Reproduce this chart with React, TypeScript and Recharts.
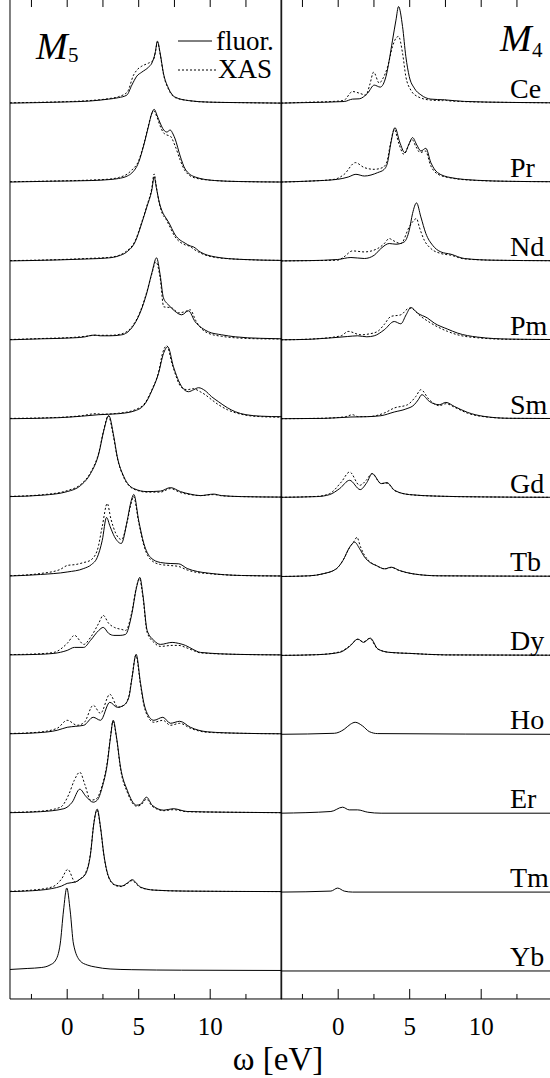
import { LineChart, Line, XAxis, YAxis, ReferenceLine } from 'recharts'

const elements = ['Ce', 'Pr', 'Nd', 'Pm', 'Sm', 'Gd', 'Tb', 'Dy', 'Ho', 'Er', 'Tm', 'Yb']

// [omega (eV), intensity above the element's baseline]
// M5 edge, fluorescence (solid) and XAS (dotted)
const ceM5Fluor = [[-4, 0], [-2, 0.5], [0, 1.2], [1.5, 2], [2.9, 4], [3.6, 5.5], [4.17, 8], [4.52, 18], [4.87, 27], [5.22, 31], [5.69, 36], [5.92, 40], [6.15, 50], [6.31, 62], [6.5, 50], [6.73, 30], [7.08, 15], [7.55, 6], [8.5, 2.5], [9.9, 1], [12, 0.5], [15, 0]]
const ceM5Xas = [[-4, 0.3], [-2, 0.8], [0, 1.5], [1.5, 2.5], [2.9, 4.5], [3.6, 6.5], [4.2, 11], [4.64, 28], [4.87, 33], [5.22, 37], [5.69, 40], [6.03, 43], [6.18, 52], [6.31, 61], [6.5, 49], [6.73, 29], [7.08, 14], [7.55, 5.5], [8.5, 2.5], [9.9, 1], [12, 0.5], [15, 0]]
const prM5Fluor = [[-4, 0], [-1, 0.8], [1.72, 1.5], [3, 2.5], [3.59, 3.5], [4.2, 6], [4.52, 9], [4.99, 19.5], [5.34, 36], [5.69, 56], [5.9, 68], [6.08, 72.7], [6.3, 66], [6.5, 59], [6.75, 52], [6.97, 50], [7.2, 52], [7.4, 48], [7.55, 43], [7.9, 26], [8.25, 13], [8.95, 5], [10.3, 1.5], [12, 0.5], [15, 0]]
const prM5Xas = [[-4, 0.3], [-1, 1], [1.72, 2], [3, 3], [3.59, 4.5], [4.2, 8], [4.52, 12], [4.99, 21], [5.34, 37], [5.69, 57], [5.9, 68], [6.06, 71], [6.3, 64], [6.5, 56], [6.75, 49], [6.97, 47], [7.2, 46], [7.55, 36], [7.9, 22], [8.25, 11], [8.95, 4], [10.3, 1.5], [12, 0.5], [15, 0]]
const ndM5Fluor = [[-4, 0], [-0.6, 1], [1.5, 2], [2.89, 3], [3.6, 5], [4.17, 9], [4.75, 19], [5.22, 38], [5.57, 54], [5.92, 71], [6.08, 84], [6.25, 72], [6.45, 58], [6.66, 49], [6.9, 43], [7.08, 39], [7.55, 26], [8.25, 17.7], [8.6, 15], [8.83, 14], [9.3, 9], [10.35, 4], [12.2, 1.5], [15, 0.5]]
const ndM5Xas = [[-4, 0.3], [-0.6, 1.3], [1.5, 2.5], [2.89, 3.5], [3.6, 5.5], [4.17, 10], [4.75, 20], [5.22, 39], [5.57, 55], [5.92, 73], [6.08, 87], [6.25, 73], [6.45, 57], [6.66, 47], [6.9, 42], [7.08, 37], [7.55, 24], [8.25, 16], [8.6, 14.5], [8.83, 12], [9.3, 8], [10.35, 3.5], [12.2, 1.5], [15, 0.5]]
const pmM5Fluor = [[-4, 0], [-1.78, 1], [0.5, 2], [1.26, 3], [1.7, 4.5], [1.96, 4.7], [2.3, 4], [3, 4], [3.82, 5], [4.52, 12], [5.1, 27], [5.57, 47], [5.92, 67], [6.25, 82], [6.5, 65], [6.73, 42], [7.08, 35], [7.5, 29], [8.01, 25], [8.48, 29], [8.95, 18], [9.4, 12], [9.88, 8], [10.8, 5], [11.75, 3], [13.5, 1.5], [15, 1]]
const pmM5Xas = [[-4, 0.3], [-1.78, 1.3], [0.5, 2.5], [1.26, 3.5], [1.96, 4.5], [3, 4.5], [3.82, 6], [4.52, 13], [5.1, 28], [5.57, 48], [5.92, 66], [6.2, 78], [6.5, 62], [6.75, 33], [7.3, 32], [7.8, 27], [8.2, 28], [8.6, 30], [9, 19], [9.4, 11], [9.88, 6.5], [10.8, 3.5], [11.75, 2], [13.5, 1], [15, 0.8]]
const smM5Fluor = [[-4, 0], [-0.6, 1], [1, 2.5], [2.19, 4], [3.59, 5], [4.75, 8], [5.45, 15], [5.92, 28], [6.38, 45], [6.73, 65], [7.03, 72], [7.43, 52], [8.01, 32], [8.48, 27], [8.85, 29], [9.18, 31], [9.65, 28], [10.1, 22], [10.58, 17], [11.2, 11], [11.75, 7], [12.5, 4], [13.6, 2.5], [15, 2]]
const smM5Xas = [[-4, 0.3], [-0.6, 1.3], [1, 3], [2, 5], [2.4, 4.5], [3.59, 5.5], [4.75, 9], [5.45, 16], [5.92, 29], [6.38, 46], [6.7, 67], [6.96, 73], [7.35, 54], [8.01, 31], [8.4, 29], [8.8, 30], [9.3, 27], [9.65, 24], [10.1, 19], [10.58, 14], [11.2, 9], [11.75, 6], [12.5, 3.5], [13.6, 2], [15, 1.5]]
const gdM5Fluor = [[-4, 1], [-1.64, 2.5], [0, 6], [0.93, 12], [1.63, 24], [2.21, 44], [2.56, 67], [2.91, 82], [3.26, 61], [3.5, 41], [3.96, 21], [4.66, 9], [5.59, 6], [6.52, 6.5], [7.22, 10], [7.92, 6], [8.6, 3.5], [9.32, 2], [10.25, 3.5], [10.8, 2], [12.2, 1], [15, 0.5]]
const gdM5Xas = [[-4, 1.2], [-1.64, 3], [0, 7], [0.93, 13], [1.63, 25], [2.21, 45], [2.56, 68], [2.87, 82], [3.22, 62], [3.5, 40], [3.96, 20], [4.66, 8.5], [5.59, 5.5], [6.52, 5.5], [7.22, 9], [7.92, 5], [8.6, 3], [9.32, 2], [10.25, 3], [10.8, 1.8], [12.2, 1], [15, 0.5]]
const tbM5Fluor = [[-4, 0.5], [-1.87, 2], [0, 4.5], [1.16, 8], [1.7, 12], [2.1, 19], [2.45, 36], [2.75, 59], [3, 50], [3.3, 40], [3.78, 33], [4.2, 56], [4.43, 73], [4.66, 82], [5, 56], [5.36, 33], [5.83, 19], [6.52, 14], [7.2, 13], [7.8, 12.7], [8.39, 8], [9.1, 5], [9.79, 3.5], [12.2, 1], [15, 0.5]]
const tbM5Xas = [[-4, 0.8], [-1.87, 3], [-0.5, 7], [0, 11], [0.6, 12], [1.16, 14], [1.6, 16], [2.1, 26], [2.45, 50], [2.8, 73], [3.05, 58], [3.4, 43], [3.8, 37], [4.2, 55], [4.45, 72], [4.64, 80], [5, 54], [5.36, 31], [5.83, 17], [6.52, 12], [7.2, 11], [7.8, 10], [8.39, 6.5], [9.1, 4], [9.79, 3], [12.2, 1], [15, 0.5]]
const dyM5Fluor = [[-4, 0.5], [-2.1, 1], [-0.93, 2], [0, 5], [0.51, 8], [1.16, 8], [1.63, 15], [2.21, 25], [2.52, 28], [2.9, 22], [3.26, 20], [3.7, 20], [4.08, 21], [4.5, 40], [4.85, 68], [5.08, 78], [5.3, 60], [5.59, 25], [6.06, 15], [6.52, 11], [7.34, 13], [7.8, 12], [8.27, 10], [8.8, 6], [9.32, 3], [12, 1], [15, 0.5]]
const dyM5Xas = [[-4, 0.8], [-2.1, 1.5], [-0.93, 3], [0, 12], [0.51, 20], [1.16, 11], [1.63, 18], [2.2, 32], [2.52, 40], [2.9, 32], [3.3, 28], [3.8, 26], [4.1, 25], [4.5, 42], [4.85, 69], [5.05, 77], [5.3, 58], [5.59, 23], [6.06, 13], [6.52, 9], [7.34, 10], [7.8, 10], [8.27, 8], [8.8, 5], [9.32, 2.5], [12, 1], [15, 0.5]]
const hoM5Fluor = [[-4, 0.5], [-2.1, 1.5], [-0.7, 4], [0, 7], [0.6, 8], [1.16, 9], [1.82, 17], [2.33, 14], [2.98, 32], [3.5, 27], [3.96, 29], [4.31, 37], [4.54, 57], [4.82, 80], [5.13, 51], [5.35, 32], [5.59, 21], [6.06, 14], [6.69, 17], [7.22, 11], [7.87, 13], [8.62, 7], [9.79, 2.5], [12.2, 1], [15, 0.5]]
const hoM5Xas = [[-4, 0.8], [-2.1, 2], [-0.7, 6], [0, 14], [0.7, 9], [1.2, 12], [1.82, 29], [2.33, 21], [2.98, 40], [3.55, 27], [3.96, 29], [4.31, 38], [4.54, 58], [4.8, 79], [5.13, 49], [5.35, 30], [5.59, 19], [6.06, 12], [6.69, 14], [7.22, 9], [7.87, 11], [8.62, 6], [9.79, 2], [12.2, 1], [15, 0.5]]
const erM5Fluor = [[-4, 0.5], [-1.87, 1.5], [-0.23, 4.5], [0.35, 11], [0.88, 24], [1.3, 17], [1.82, 11], [2.1, 13], [2.45, 26], [2.8, 49], [3.03, 76], [3.22, 93], [3.45, 76], [3.73, 46], [4.2, 23], [4.85, 8], [5.13, 9], [5.55, 16], [5.94, 8], [6.76, 3], [7.41, 4.5], [8.39, 1.7], [11, 1], [15, 0.5]]
const erM5Xas = [[-4, 0.8], [-1.87, 2], [-0.47, 6], [0.12, 19], [0.5, 33], [0.88, 41], [1.25, 28], [1.63, 13], [2, 14], [2.45, 28], [2.8, 51], [3.03, 77], [3.2, 92], [3.45, 75], [3.73, 44], [4.2, 21], [4.85, 7], [5.13, 8], [5.55, 14], [5.94, 7], [6.76, 2.5], [7.41, 3.5], [8.39, 1.5], [11, 1], [15, 0.5]]
const tmM5Fluor = [[-4, 0.5], [-2.9, 1], [-1.08, 3.5], [-0.4, 6], [0, 8.7], [0.56, 10], [0.9, 13], [1.28, 18], [1.63, 38], [1.86, 68], [2.1, 83], [2.33, 65], [2.56, 38], [2.91, 15], [3.38, 7], [3.8, 6], [4.2, 9], [4.55, 12.4], [4.9, 8], [5.13, 5], [6.06, 2], [8.2, 1], [15, 0.5]]
const tmM5Xas = [[-4, 0.8], [-2.9, 1.5], [-1.08, 5], [-0.4, 13], [0.04, 22.7], [0.56, 10], [0.9, 13], [1.28, 19], [1.63, 39], [1.86, 69], [2.08, 82], [2.33, 64], [2.56, 37], [2.91, 14], [3.38, 6.5], [3.8, 5.5], [4.2, 8.5], [4.55, 11.5], [4.9, 7], [5.13, 4.5], [6.06, 2], [8.2, 1], [15, 0.5]]
const ybM5Fluor = [[-4, 1.5], [-2.8, 2.5], [-1.78, 3.5], [-1.2, 6], [-0.84, 10], [-0.49, 27], [-0.26, 60], [-0.03, 83], [0.21, 60], [0.44, 27], [0.91, 10], [1.4, 6], [1.96, 4], [3, 2], [4.52, 1.3], [8, 0.8], [15, 0.5]]

// M4 edge
const ceM4Fluor = [[-4, 0], [-2.3, 0.5], [0.42, 1.6], [1, 4], [1.47, 4.3], [2.06, 10], [2.52, 18], [2.94, 16], [3.34, 26.6], [3.57, 43], [3.8, 63], [4.04, 83], [4.22, 96.6], [4.5, 76.6], [4.73, 46.6], [4.97, 26.6], [5.32, 15], [5.78, 8.3], [6.48, 4], [7.42, 3.3], [8.82, 1.7], [12, 0.7], [15, 0.3]]
const ceM4Xas = [[-4, 0], [-2.3, 0.8], [0, 2], [0.42, 3], [1, 11.6], [1.47, 10], [1.94, 8], [2.2, 18], [2.48, 31], [2.87, 20], [3.1, 24], [3.45, 36], [3.8, 56.6], [4.04, 65], [4.22, 66.7], [4.5, 50], [4.73, 26.6], [5.08, 13], [5.55, 6.6], [6.48, 3], [7.3, 2.5], [7.42, 3.5], [7.6, 2.5], [8.82, 1.5], [12, 0.7], [15, 0.3]]
const prM4Fluor = [[-4, 0], [-1.9, 1], [-0.04, 2.7], [0.7, 5], [1.24, 7.7], [1.83, 6], [2.76, 9.4], [3.22, 12.7], [3.45, 19.4], [3.69, 39.4], [3.97, 54.4], [4.3, 40], [4.66, 29.4], [4.95, 38], [5.2, 44.4], [5.5, 37], [5.78, 31], [6.13, 33.7], [6.48, 19.4], [6.95, 9.4], [7.88, 4.4], [9.75, 1.7], [12, 0.7], [15, 0.3]]
const prM4Xas = [[-4, 0], [-1.9, 1], [-0.27, 2.7], [0.42, 7.7], [1.2, 19.4], [1.83, 14.4], [2.52, 12.7], [3.1, 14.4], [3.4, 20], [3.65, 38], [3.92, 52.7], [4.25, 38], [4.6, 27.7], [4.9, 36], [5.15, 42.7], [5.45, 35], [5.73, 29.4], [6.1, 31], [6.48, 16], [6.95, 8], [7.88, 4], [9.75, 1.5], [12, 0.7], [15, 0.3]]
const ndM4Fluor = [[-4, 0], [-2, 0.3], [-0.04, 1.4], [0.89, 3.4], [1.83, 2.4], [2.52, 5.7], [2.99, 12.4], [3.57, 17.4], [4.04, 16.7], [4.62, 19], [4.97, 30.7], [5.2, 47.4], [5.48, 58], [5.78, 44], [6.13, 27.4], [6.6, 15.7], [7.18, 9], [7.88, 6.7], [8.82, 2.4], [10.9, 0.7], [15, 0.2]]
const ndM4Xas = [[-4, 0], [-2, 0.3], [-0.04, 0.7], [0.4, 4], [1, 10], [1.83, 9], [2.76, 12.4], [3.2, 17], [3.57, 22.4], [3.8, 20.7], [4.38, 17.4], [4.97, 34], [5.2, 39], [5.48, 42.4], [5.67, 34], [6.02, 20.7], [6.48, 12.4], [7.18, 7.4], [7.88, 5.7], [8.82, 2], [10.9, 0.7], [15, 0.2]]
const pmM4Fluor = [[-4, 0], [-2, 0.5], [0.66, 3.3], [1.36, 4], [2, 3], [2.52, 4], [3.22, 10], [3.92, 18.3], [4.38, 16], [4.75, 25], [5.08, 32.3], [5.55, 26.7], [6.25, 21.7], [6.72, 16.7], [7.65, 10.7], [8.35, 6.7], [9.75, 2.7], [12, 0.7], [15, 0.3]]
const pmM4Xas = [[-4, 0], [-2, 0.7], [0.2, 4], [0.7, 8.4], [1.59, 5], [2.2, 6], [2.76, 8.4], [3.2, 15], [3.69, 23.4], [4.38, 25], [4.97, 31.7], [5.1, 31.5], [5.78, 23.4], [6.48, 16.7], [7.65, 8.4], [8.35, 5], [9.75, 2], [12, 0.5], [15, 0.3]]
const smM4Fluor = [[-4, 0], [-1, 0.3], [0.89, 1.7], [2, 2], [2.99, 3], [3.92, 6.7], [4.73, 9.7], [5.32, 14], [5.6, 19], [5.85, 24], [6.37, 17.3], [7.07, 14], [7.53, 16.3], [8.12, 12.3], [9.05, 6.3], [10.2, 2.3], [12, 0.4], [15, 0.2]]
const smM4Xas = [[-4, 0], [-1, 0.5], [0.5, 2], [1, 4], [1.4, 2], [2.2, 2.2], [3.22, 5.7], [3.92, 10.7], [4.85, 14], [5.43, 22.3], [5.78, 29], [6.37, 19], [7.07, 13], [7.53, 15], [8.2, 11], [9.05, 5.5], [10.2, 2], [12, 0.4], [15, 0.2]]
const gdM4Fluor = [[-4, 0.3], [-1.5, 1], [-0.6, 3], [0.1, 9], [0.8, 17.3], [1.54, 8], [2, 15], [2.38, 24], [3.01, 14], [3.41, 15], [3.94, 7.3], [4.99, 3], [6.86, 1.5], [10, 0.7], [15, 0.3]]
const gdM4Xas = [[-4, 0.3], [-1.5, 1.2], [-0.6, 4], [0.22, 15.6], [0.8, 25.6], [1.5, 12.3], [2, 18], [2.35, 24], [3.01, 14], [3.41, 14.5], [3.94, 7], [4.99, 3], [6.86, 1.5], [10, 0.7], [15, 0.3]]
const tbM4Fluor = [[-4, 0], [-2, 0.7], [-1.07, 2.7], [-0.13, 7.7], [0.33, 16], [0.8, 29.3], [1.15, 34.3], [1.5, 27.7], [1.85, 19.3], [2.2, 14.3], [2.66, 11], [3.25, 7.7], [3.71, 9.3], [4.29, 6], [5.22, 2.7], [7, 0.7], [15, 0.3]]
const tbM4Xas = [[-4, 0], [-2, 0.7], [-1.07, 2.7], [-0.13, 7.7], [0.33, 16], [0.8, 29], [1.15, 36], [1.31, 39.3], [1.55, 30], [1.85, 21], [2.2, 15], [2.66, 11], [3.25, 7.5], [3.71, 9], [4.29, 5.8], [5.22, 2.7], [7, 0.7], [15, 0.3]]
const dyM4Fluor = [[-4, 0], [-1.5, 0.7], [0.1, 3], [0.8, 9], [1.38, 16.3], [1.78, 13], [2.24, 17.3], [2.78, 6.3], [3.6, 3], [5, 2], [7.5, 0.5], [15, 0.2]]
const dyM4Xas = [[-4, 0], [-1.5, 0.7], [0.1, 3.5], [0.8, 9.5], [1.35, 16], [1.75, 13.5], [2.2, 17], [2.75, 6.5], [3.6, 3], [5, 2], [7.5, 0.5], [15, 0.2]]
const hoM4Fluor = [[-4, 0], [-0.27, 1], [0.42, 5], [0.85, 10], [1.19, 12], [1.71, 8.3], [2.17, 2.7], [2.76, 0.7], [15, 0]]
const erM4Fluor = [[-4, 0], [-0.51, 1.7], [0.31, 6], [0.77, 3.3], [1.36, 3.3], [2.06, 1], [3, 0], [15, 0]]
const tmM4Fluor = [[-4, 0], [-0.51, 1], [-0.04, 4], [0.42, 1], [1, 0], [15, 0]]
const ybM4Fluor = [[-4, 0], [15, 0]]

const m5Fluor = [ceM5Fluor, prM5Fluor, ndM5Fluor, pmM5Fluor, smM5Fluor, gdM5Fluor, tbM5Fluor, dyM5Fluor, hoM5Fluor, erM5Fluor, tmM5Fluor, ybM5Fluor]
const m5Xas = [ceM5Xas, prM5Xas, ndM5Xas, pmM5Xas, smM5Xas, gdM5Xas, tbM5Xas, dyM5Xas, hoM5Xas, erM5Xas, tmM5Xas, null]
const m4Fluor = [ceM4Fluor, prM4Fluor, ndM4Fluor, pmM4Fluor, smM4Fluor, gdM4Fluor, tbM4Fluor, dyM4Fluor, hoM4Fluor, erM4Fluor, tmM4Fluor, ybM4Fluor]
const m4Xas = [ceM4Xas, prM4Xas, ndM4Xas, pmM4Xas, smM4Xas, gdM4Xas, tbM4Xas, dyM4Xas, null, null, null, null]

const xTicks = [-2.5, 0, 2.5, 5, 7.5, 10, 12.5]
const labelTicks = [0, 5, 10]

const STEP = 78.9 // vertical offset between spectra
const PLOT_H = 1002 // plot area height in px
const FONT = 'Liberation Serif, Times New Roman, serif'
const PAD = 2

const rows = (pts: number[][], i: number) =>
  pts.map(([x, h]) => ({ x, y: (elements.length - 1 - i) * STEP + h }))

// ticks point inwards, at the bottom and mirrored at the top of the frame
const FrameTick = (props: any) => {
  const { x, y, payload } = props
  const major = labelTicks.includes(payload.value)
  const top = y - PLOT_H
  return (
    <g>
      <line x1={x} x2={x} y1={y} y2={y - (major ? 10 : 5)} stroke='#000' />
      <line x1={x} x2={x} y1={top} y2={top + 10} stroke='#000' />
      {major && (
        <text x={x} y={y + 36} textAnchor='middle' fontFamily={FONT} fontSize={25} fill='#000'>
          {payload.value}
        </text>
      )}
    </g>
  )
}

const Panel = ({ fluor, xas, left, rightEdge }: { fluor: any[]; xas: any[]; left: number; rightEdge: boolean }) => (
  <div style={{ position: 'absolute', left: left - PAD, top: -3 - PAD }}>
    <LineChart width={271.7 + 2 * PAD} height={PLOT_H + 79 + PAD} margin={{ top: PAD, right: PAD, bottom: 0, left: PAD }}>
      <XAxis
        dataKey='x'
        type='number'
        domain={[-4, 15]}
        allowDataOverflow
        ticks={xTicks}
        interval={0}
        tickSize={0}
        tickMargin={0}
        tickLine={false}
        tick={FrameTick}
        height={79}
        axisLine={{ stroke: '#000' }}
      />
      <YAxis type='number' domain={[-28, 974]} allowDataOverflow hide width={0} />
      <ReferenceLine x={-4} stroke='#000' strokeWidth={1} />
      {rightEdge && <ReferenceLine x={15} stroke='#000' strokeWidth={1} />}
      {fluor.map((pts, i) => (
        <Line
          key={'f' + i}
          data={rows(pts, i)}
          dataKey='y'
          type='monotone'
          stroke='#000'
          strokeWidth={1}
          dot={false}
          isAnimationActive={false}
        />
      ))}
      {xas.map((pts, i) =>
        pts ? (
          <Line
            key={'x' + i}
            data={rows(pts, i)}
            dataKey='y'
            type='monotone'
            stroke='#000'
            strokeWidth={1}
            strokeDasharray='2 2'
            dot={false}
            isAnimationActive={false}
          />
        ) : null
      )}
    </LineChart>
  </div>
)

export default function App() {
  return (
    <div
      style={{
        position: 'absolute',
        left: 0,
        top: 0,
        width: 550,
        height: 1078,
        overflow: 'hidden',
        background: '#fff',
        fontFamily: FONT,
      }}
    >
      <Panel fluor={m5Fluor} xas={m5Xas} left={9.7} rightEdge />
      <Panel fluor={m4Fluor} xas={m4Xas} left={281.3} rightEdge={false} />
      <svg width={550} height={1078} style={{ position: 'absolute', left: 0, top: 0, pointerEvents: 'none' }}>
        <g fontFamily={FONT} fill='#000'>
          <text x={36} y={59} fontSize={38} fontStyle='italic'>M</text>
          <text x={68} y={62} fontSize={21}>5</text>
          <text x={500} y={51} fontSize={38} fontStyle='italic'>M</text>
          <text x={532} y={57} fontSize={21}>4</text>
          <line x1={178} x2={212} y1={41} y2={41} stroke='#000' />
          <text x={216} y={50} fontSize={27}>fluor.</text>
          <line x1={178} x2={216} y1={70} y2={70} stroke='#000' strokeDasharray='2 2' />
          <text x={218} y={78} fontSize={27}>XAS</text>
          {elements.map((el, i) => (
            <text key={el} x={510} y={103 + i * STEP - 5} fontSize={28}>
              {el}
            </text>
          ))}
          <text x={278} y={1070} fontSize={33} textAnchor='middle'>ω [eV]</text>
        </g>
      </svg>
    </div>
  )
}
